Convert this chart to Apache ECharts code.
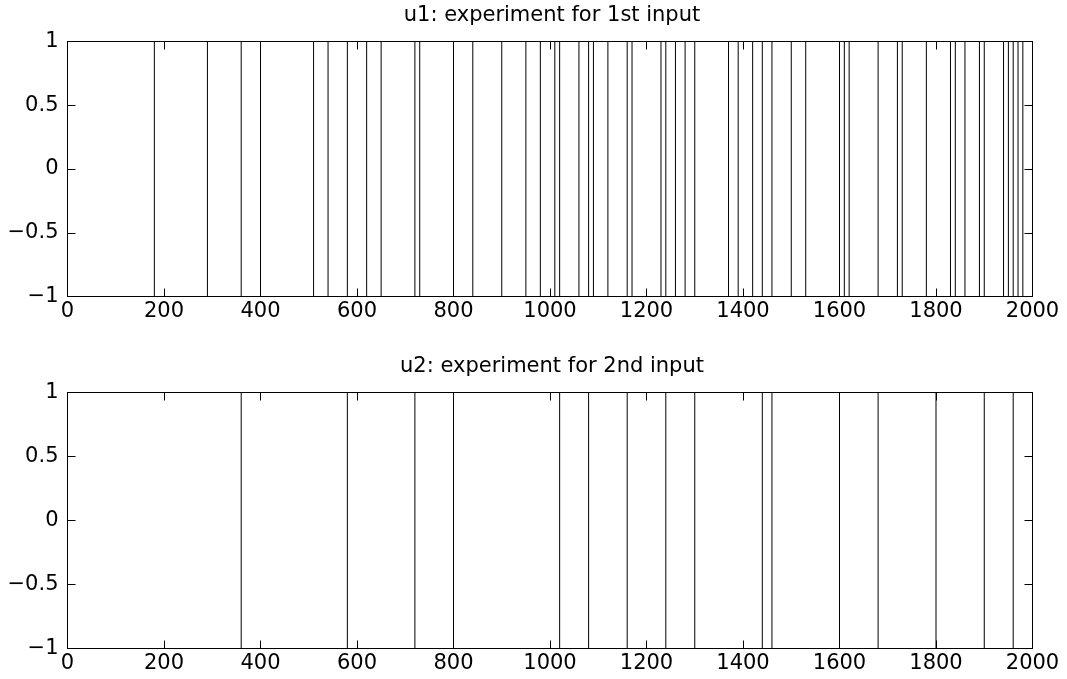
<!DOCTYPE html>
<html>
<head>
<meta charset="utf-8">
<script src="https://cdn.jsdelivr.net/npm/echarts@6/dist/echarts.min.js"></script>
<style>html,body{margin:0;padding:0;background:#fff}#c{width:1067px;height:679px}</style>
</head>
<body>
<div id="c"></div>
<script>
// Switching instants (sample index) of the two binary test signals (levels -1 / +1)
const u1Switches = [180, 290, 360, 400, 510, 540, 580, 620, 650, 720, 730, 800, 840, 900, 950, 980, 1010, 1020, 1060, 1080, 1090, 1120, 1160, 1170, 1230, 1240, 1260, 1280, 1300, 1370, 1390, 1420, 1440, 1460, 1500, 1530, 1600, 1610, 1620, 1680, 1720, 1730, 1780, 1830, 1840, 1860, 1890, 1900, 1940, 1950, 1960, 1970, 1980];
const u2Switches = [360, 580, 720, 800, 1020, 1080, 1160, 1240, 1300, 1440, 1460, 1600, 1680, 1800, 1900, 1960];
const u1Start = -1;
const u2Start = -1;
const sampleEnd = 2000;
const titles = ['u1: experiment for 1st input', 'u2: experiment for 2nd input'];
const xTicks = [0, 200, 400, 600, 800, 1000, 1200, 1400, 1600, 1800, 2000];
const yTicks = [-1, -0.5, 0, 0.5, 1];

function buildSignal(start, switches, end) {
  const pts = [[0, start]];
  let v = start;
  for (const t of switches) {
    pts.push([t, v]);
    v = -v;
    pts.push([t, v]);
  }
  pts.push([end, v]);
  return pts;
}

const FONT = 'DejaVu Sans';
const fmtY = v => (v < 0 ? '\u2212' + Math.abs(v) : String(v));

const grids = [
  { left: 67.5, width: 965, top: 41.5, height: 255 },
  { left: 67.5, width: 965, top: 392.5, height: 256 }
];

const xAxes = [], yAxes = [];
grids.forEach((g, i) => {
  const base = {
    gridIndex: i, type: 'value', min: 0, max: 2000, interval: 200,
    axisLine: { show: true, onZero: false, lineStyle: { color: '#000', width: 1 } },
    axisTick: { show: true, inside: true, length: 8, lineStyle: { color: '#000', width: 1 } },
    splitLine: { show: false }
  };
  xAxes.push(Object.assign({}, base, {
    position: 'bottom',
    axisLabel: { show: true, margin: 5, color: '#000', fontFamily: FONT, fontSize: 21,
      formatter: v => xTicks.includes(v) ? String(v) : '' }
  }));
  xAxes.push(Object.assign({}, base, { position: 'top', axisLabel: { show: false } }));
  const ybase = {
    gridIndex: i, type: 'value', min: -1, max: 1, interval: 0.5,
    axisLine: { show: true, onZero: false, lineStyle: { color: '#000', width: 1 } },
    axisTick: { show: true, inside: true, length: 8, lineStyle: { color: '#000', width: 1 } },
    splitLine: { show: false }
  };
  yAxes.push(Object.assign({}, ybase, {
    position: 'left',
    axisLabel: { show: true, margin: 9, color: '#000', fontFamily: FONT, fontSize: 21,
      formatter: v => yTicks.includes(v) ? fmtY(v) : '' }
  }));
  yAxes.push(Object.assign({}, ybase, { position: 'right', axisLabel: { show: false } }));
});

const chart = echarts.init(document.getElementById('c'), null, { renderer: 'canvas' });
chart.setOption({
  backgroundColor: '#fff',
  animation: false,
  grid: grids,
  xAxis: xAxes,
  yAxis: yAxes,
  graphic: [
    { type: 'text', x: 552, y: 16, style: { text: titles[0], fontFamily: FONT, fontSize: 21, fill: '#000', textAlign: 'center', textVerticalAlign: 'middle' } },
    { type: 'text', x: 552, y: 367, style: { text: titles[1], fontFamily: FONT, fontSize: 21, fill: '#000', textAlign: 'center', textVerticalAlign: 'middle' } }
  ],
  series: [
    { type: 'line', xAxisIndex: 0, yAxisIndex: 0, data: buildSignal(u1Start, u1Switches, sampleEnd),
      showSymbol: false, lineStyle: { color: '#000', width: 1 }, silent: true },
    { type: 'line', xAxisIndex: 2, yAxisIndex: 2, data: buildSignal(u2Start, u2Switches, sampleEnd),
      showSymbol: false, lineStyle: { color: '#000', width: 1 }, silent: true }
  ]
});
</script>
</body>
</html>
